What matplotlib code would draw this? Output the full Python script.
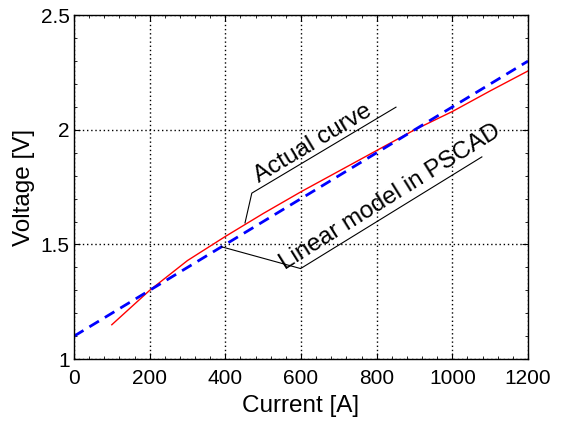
import matplotlib.pyplot as plt
from matplotlib.ticker import MultipleLocator

plt.rcParams['font.family'] = ['Liberation Sans', 'DejaVu Sans']

# Actual curve
current_actual = [100, 200, 300, 400, 500, 600, 700, 800, 900, 1000, 1100, 1200]
voltage_actual = [1.15, 1.30, 1.43, 1.535, 1.635, 1.73, 1.82, 1.91, 2.0, 2.08, 2.17, 2.257]

# Linear model in PSCAD
current_linear = [0, 1200]
voltage_linear = [1.1, 2.3]

fig = plt.figure(figsize=(5.69, 4.23), dpi=100)
ax = fig.add_axes([0.130, 0.151, 0.798, 0.813])

ax.plot(current_actual, voltage_actual, color='red', linewidth=1)
ax.plot(current_linear, voltage_linear, color='blue', linestyle='--', linewidth=2, dashes=(4, 2.5))

ax.set_xlim(0, 1200)
ax.set_ylim(1, 2.5)
ax.set_xticks([0, 200, 400, 600, 800, 1000, 1200])
ax.set_yticks([1, 1.5, 2, 2.5])
ax.set_yticklabels(['1', '1.5', '2', '2.5'])
ax.xaxis.set_minor_locator(MultipleLocator(40))
ax.yaxis.set_minor_locator(MultipleLocator(0.1))
ax.tick_params(which='both', direction='in', top=True, right=True, labelsize=15)
ax.tick_params(axis='x', pad=7)
ax.tick_params(axis='y', pad=3)
ax.tick_params(which='major', length=4)
ax.tick_params(which='minor', length=2)
ax.grid(True, linestyle=(0, (1, 2)), color='black', linewidth=1)
for s in ax.spines.values():
    s.set_linewidth(1)

ax.set_xlabel('Current [A]', fontsize=17.5, labelpad=5)
ax.set_ylabel('Voltage [V]', fontsize=17.5, labelpad=4)

# Annotations with leader lines
ax.plot([452, 470, 851], [1.594, 1.724, 2.099], color='black', linewidth=0.8)
ax.text(632, 1.94, 'Actual curve', rotation=31, fontsize=17.5, ha='center', va='center',
        rotation_mode='anchor')

ax.plot([390, 599, 1078], [1.49, 1.395, 1.882], color='black', linewidth=0.8)
ax.text(835, 1.705, 'Linear model in PSCAD', rotation=32, fontsize=17.5, ha='center', va='center',
        rotation_mode='anchor')

plt.savefig('out.png', dpi=100)
